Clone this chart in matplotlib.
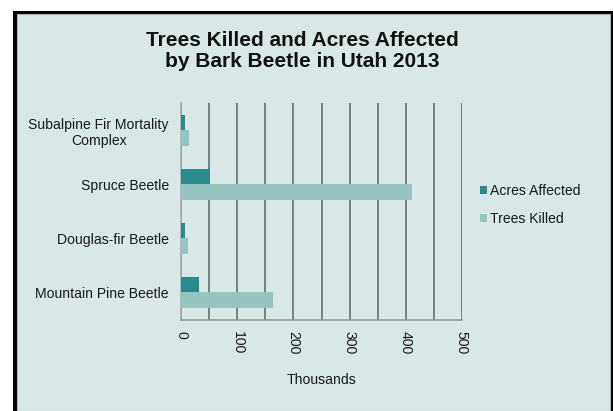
import matplotlib
matplotlib.use("Agg")
import matplotlib.pyplot as plt
from matplotlib.patches import Rectangle, Patch
import numpy as np

plt.rcParams['font.family'] = ['Liberation Sans', 'DejaVu Sans']

categories = ["Mountain Pine Beetle", "Douglas-fir Beetle", "Spruce Beetle",
              "Subalpine Fir Mortality\nComplex"]
acres_affected = [32, 6.5, 52, 6]
trees_killed = [164, 12.5, 412, 13.5]
series_names = ["Acres Affected", "Trees Killed"]
xticks = [0, 100, 200, 300, 400, 500]

dark = "#2a8a8c"
light = "#96c4c0"
bg = "#d9e7e7"
txt = "#1a1a1a"
fs = 10.1

W, H = 613, 411
fig = plt.figure(figsize=(W / 100, H / 100), dpi=100)
fig.patch.set_facecolor("white")

# frame
fig.patches.append(Rectangle((13 / W, 0), (W - 13) / W, (H - 11) / H,
                             transform=fig.transFigure, facecolor="black",
                             edgecolor="none", zorder=-3))
fig.patches.append(Rectangle((16.5 / W, 0), (610.3 - 16.5) / W, (H - 14.5) / H,
                             transform=fig.transFigure, facecolor=bg,
                             edgecolor="#a9b5b5", linewidth=0.8, zorder=-2))

ax = fig.add_axes([181.3 / W, 1 - 319.5 / H, (461.7 - 181.3) / W, (319.5 - 103) / H])
ax.patch.set_visible(False)

y = np.arange(len(categories))
h = 0.287
ax.barh(y + h / 2, acres_affected, height=h, color=dark, label=series_names[0], zorder=3)
ax.barh(y - h / 2, trees_killed, height=h, color=light, label=series_names[1], zorder=3)

ax.set_xlim(0, 500)
ax.set_ylim(-0.5, len(categories) - 0.5)
ax.set_yticks(y)
ax.set_yticklabels(categories, fontsize=fs, color=txt, ha="right")
for lbl in ax.get_yticklabels():
    lbl.set_multialignment("center")
ax.tick_params(axis="y", length=0, pad=9)

ax.set_xticks(xticks)
ax.set_xticklabels([str(t) for t in xticks], rotation=-90, fontsize=fs, color=txt)
ax.tick_params(axis="x", length=0, pad=8)

ax.set_xticks(np.arange(50, 501, 50), minor=True)
ax.xaxis.grid(True, which="both", color="#566464", linewidth=1.1, zorder=1)
ax.tick_params(axis="x", which="minor", length=0)

for s in ["top", "right"]:
    ax.spines[s].set_visible(False)
ax.spines["left"].set_color("#9fb0b0")
ax.spines["bottom"].set_color("#8a9a9a")
ax.spines["left"].set_linewidth(1.1)
ax.spines["bottom"].set_linewidth(1.1)

ax.set_xlabel("Thousands", fontsize=fs, color=txt, labelpad=14)

fig.text(302.5 / W, 1 - 51 / H, "Trees Killed and Acres Affected\nby Bark Beetle in Utah 2013",
         ha="center", va="center", fontsize=15, fontweight="bold",
         color="#111111", linespacing=1.15)

handles = [Patch(facecolor=dark, edgecolor="none"), Patch(facecolor=light, edgecolor="none")]
fig.legend(handles, series_names, loc="center left",
           bbox_to_anchor=(467 / W, 1 - 205 / H), frameon=False,
           fontsize=fs, handlelength=0.5, handleheight=0.5, handletextpad=0.25,
           labelspacing=1.05, labelcolor=txt)

fig.savefig("out.png", dpi=100, facecolor=fig.get_facecolor())
